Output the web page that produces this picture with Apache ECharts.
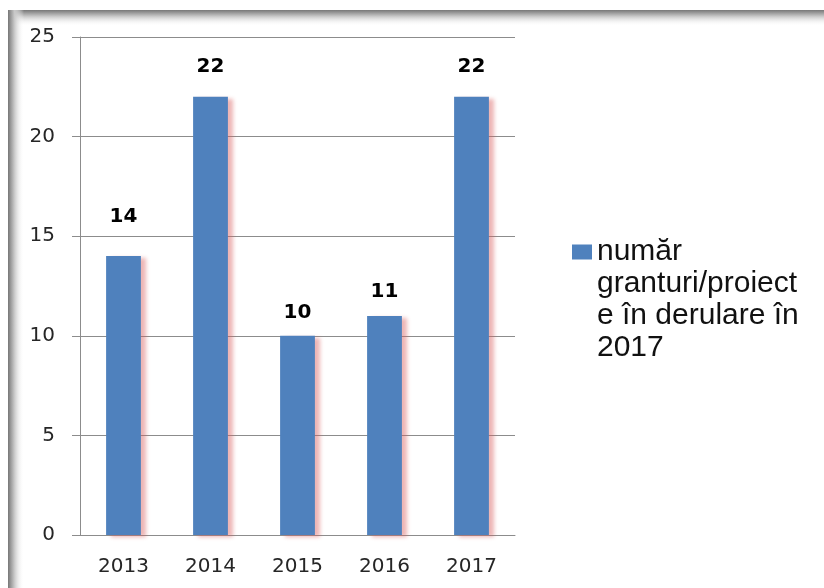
<!DOCTYPE html>
<html>
<head>
<meta charset="utf-8">
<script src="https://cdn.jsdelivr.net/npm/echarts@6/dist/echarts.min.js"></script>
<style>
html, body { margin: 0; padding: 0; background: #fff; }
#chart { width: 824px; height: 588px; }
</style>
</head>
<body>
<div id="chart"></div>
<script>
// date
const years = ['2013', '2014', '2015', '2016', '2017'];
const counts = [14, 22, 10, 11, 22];
const seriesName = 'număr granturi/proiecte în derulare în 2017';
const legendLines = ['număr', 'granturi/proiect', 'e în derulare în', '2017'];
// etichetele au fost mutate manual in original, distanta difera pe bara
const labelGap = [29, 20, 13, 14, 20];

const chart = echarts.init(document.getElementById('chart'));

const option = {
  animation: false,
  backgroundColor: '#fff',
  grid: {
    left: 80,
    right: 309,
    top: 37,
    bottom: 53,
    containLabel: false
  },
  legend: {
    orient: 'vertical',
    left: 572,
    top: 140,
    padding: 0,
    itemWidth: 20,
    itemHeight: 15,
    icon: 'rect',
    selectedMode: false,
    // randuri goale in fata ca primul rand sa stea langa patrat
    formatter: () => '\n\n\n' + legendLines.join('\n'),
    textStyle: {
      fontFamily: 'Liberation Sans',
      fontSize: 30,
      lineHeight: 32,
      color: '#111'
    },
    data: [seriesName]
  },
  xAxis: {
    type: 'category',
    data: years,
    boundaryGap: true,
    axisLine: { lineStyle: { color: '#8c8c8c', width: 1 } },
    axisTick: { length: 8, lineStyle: { color: '#8c8c8c' } },
    axisLabel: {
      margin: 22,
      fontFamily: 'DejaVu Sans',
      fontSize: 20,
      color: '#262626'
    }
  },
  yAxis: {
    type: 'value',
    min: 0,
    max: 25,
    interval: 5,
    axisLine: { show: true, lineStyle: { color: '#8c8c8c', width: 1 } },
    axisTick: { show: true, length: 8, lineStyle: { color: '#8c8c8c' } },
    splitLine: { lineStyle: { color: '#8c8c8c', width: 1 } },
    axisLabel: {
      margin: 25,
      fontFamily: 'DejaVu Sans',
      fontSize: 20,
      color: '#262626'
    }
  },
  series: [
    {
      name: seriesName,
      type: 'bar',
      data: counts.map((v, i) => ({ value: v, label: { distance: labelGap[i] } })),
      barWidth: '40%',
      itemStyle: {
        color: '#4F81BD',
        shadowColor: 'rgba(215, 90, 90, 0.45)',
        shadowBlur: 4,
        shadowOffsetX: 5,
        shadowOffsetY: 2
      },
      label: {
        show: true,
        position: 'top',
        fontFamily: 'DejaVu Sans',
        fontWeight: 'bold',
        fontSize: 20,
        color: '#000'
      }
    }
  ],
  // rama gri din imagine
  graphic: [
    {
      type: 'rect',
      left: 8,
      top: 10,
      shape: { width: 816, height: 16 },
      style: {
        fill: new echarts.graphic.LinearGradient(0, 0, 0, 1, [
          { offset: 0, color: '#777' },
          { offset: 0.4, color: '#c8c8c8' },
          { offset: 1, color: 'rgba(255,255,255,0)' }
        ])
      },
      z: -1
    },
    {
      type: 'rect',
      left: 8,
      top: 10,
      shape: { width: 16, height: 578 },
      style: {
        fill: new echarts.graphic.LinearGradient(0, 0, 1, 0, [
          { offset: 0, color: '#777' },
          { offset: 0.4, color: '#c8c8c8' },
          { offset: 1, color: 'rgba(255,255,255,0)' }
        ])
      },
      z: -1
    }
  ]
};

chart.setOption(option);
</script>
</body>
</html>
